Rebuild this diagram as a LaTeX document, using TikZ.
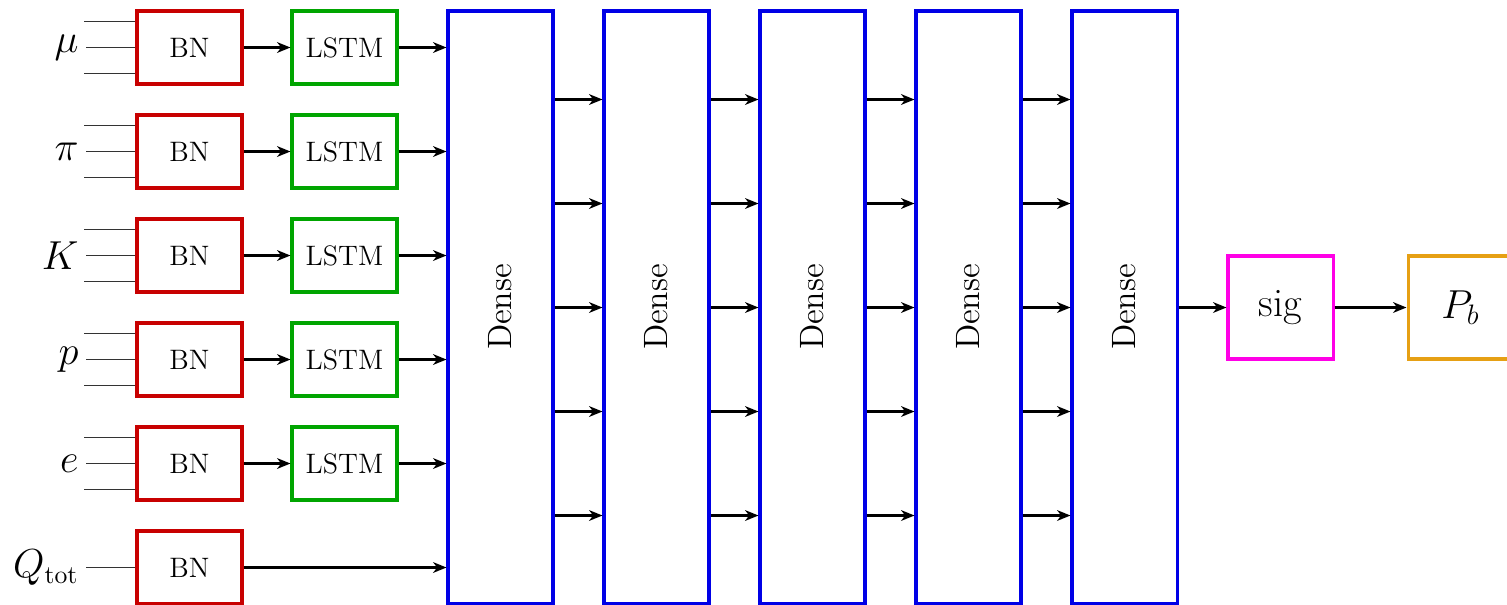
\documentclass[tikz,border=0pt]{standalone}
\usepackage{tikz}
\usetikzlibrary{positioning,arrows.meta,calc}
\usepackage{amsmath,amssymb}
\usepackage{xcolor}

\definecolor{bnred}{RGB}{200,0,0}
\definecolor{lstmgreen}{RGB}{0,165,0}
\definecolor{denseblue}{RGB}{0,0,230}
\definecolor{sigmagenta}{RGB}{255,0,230}
\definecolor{pborange}{RGB}{230,160,20}

\begin{document}
\begin{tikzpicture}[
  x=0.015cm, y=-0.015cm,
  bnbox/.style={draw=bnred, line width=1.3pt, minimum width=1.575cm, minimum height=1.095cm, inner sep=0pt, font=\large},
  lstmbox/.style={draw=lstmgreen, line width=1.3pt, minimum width=1.575cm, minimum height=1.095cm, inner sep=0pt, font=\large},
  densebox/.style={draw=denseblue, line width=1.3pt, minimum width=1.575cm, minimum height=8.88cm, inner sep=0pt},
  outbox/.style={line width=1.3pt, minimum width=1.575cm, minimum height=1.545cm, inner sep=0pt, font=\LARGE},
  inlabel/.style={anchor=east, inner sep=3pt, font=\fontsize{16}{19}\selectfont},
  inline/.style={line width=0.8pt, black!80},
  arr/.style={-{Stealth[length=2mm, width=1.6mm, inset=0.6mm]}, line width=1.3pt}
]
\useasboundingbox (0,0) rectangle (1507,604);

% inputs, batch norm and lstm rows
\foreach \i/\lbl in {1/\mu, 2/\pi, 3/K, 4/p, 5/e} {
  \pgfmathsetmacro\yy{47.5+104*(\i-1)}
  \node[bnbox] (bn\i) at (189.5,\yy) {BN};
  \node[lstmbox] (lstm\i) at (344.5,\yy) {LSTM};
  \node[inlabel] (in\i) at (86,\yy) {$\lbl$};
  \draw[inline] (in\i.east) -- (bn\i.west);
  \draw[inline] ([yshift=0.39cm]bn\i.west) -- ++(-51,0);
  \draw[inline] ([yshift=-0.39cm]bn\i.west) -- ++(-51,0);
  \draw[arr] (bn\i) -- (lstm\i);
}
\node[bnbox] (bn6) at (189.5,567.5) {BN};
\node[inlabel] (in6) at (86,567.5) {$Q_{\mathrm{tot}}$};
\draw[inline] (in6.east) -- (bn6.west);

% dense layers
\foreach \j in {1,...,5} {
  \node[densebox, label={[rotate=90, font=\Large]center:Dense}] (d\j) at (500.5+156*\j-156,307) {};
}
\foreach \i in {1,...,5} {
  \draw[arr] (lstm\i) -- (d1.west |- lstm\i);
  \coordinate (r\i) at (0,99.5+104*\i-104);
}
\draw[arr] (bn6) -- (d1.west |- bn6);
\foreach \j/\n in {1/2, 2/3, 3/4, 4/5} {
  \foreach \i in {1,...,5} {
    \draw[arr] (d\j.east |- r\i) -- (d\n.west |- r\i);
  }
}

% output
\node[outbox, draw=sigmagenta] (sig) at (1280.5,307.5) {sig};
\node[outbox, draw=pborange] (pb) at (1460.5,307.5) {$P_b$};
\draw[arr] (d5.east |- sig) -- (sig);
\draw[arr] (sig) -- (pb);
\end{tikzpicture}
\end{document}
